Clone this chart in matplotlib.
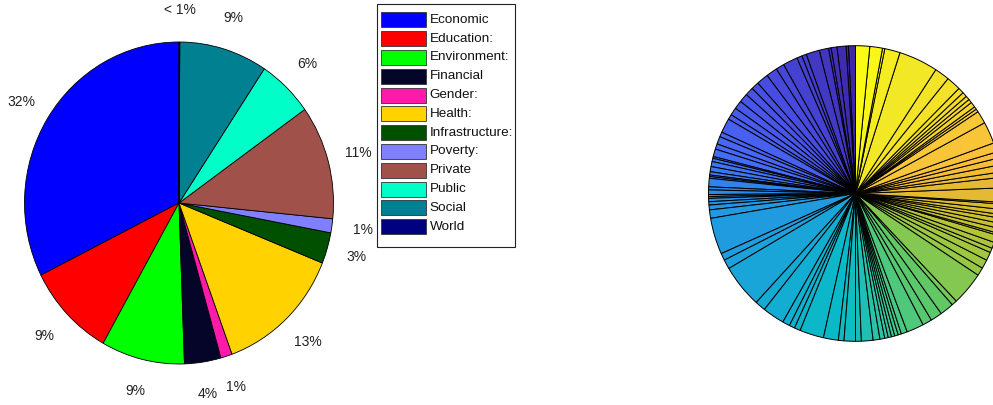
import matplotlib
matplotlib.use("Agg")
import matplotlib.pyplot as plt
from matplotlib.colors import LinearSegmentedColormap
from matplotlib.patches import Rectangle

plt.rcParams['font.family'] = ['Liberation Sans', 'DejaVu Sans']

W, H = 993, 405

# --- left pie: topic shares (%) ---
categories = ['Economic', 'Education:', 'Environment:', 'Financial', 'Gender:', 'Health:',
              'Infrastructure:', 'Poverty:', 'Private', 'Public', 'Social', 'World']
shares = [32.3, 9.4, 8.7, 3.8, 1.2, 13.3, 3.1, 1.4, 11.4, 5.8, 9.2, 0.08]
colors = ['#0000ff', '#ff0000', '#00ff00', '#05052a', '#ff1aaa', '#ffd200',
          '#005000', '#8080ff', '#a0524a', '#00ffc8', '#008090', '#000080']

# --- right pie: unlabeled wedge sizes (degrees) ---
wedge_sizes = [2.8, 0.9, 3.6, 2.3, 1.0, 3.7, 5.3, 1.8, 2.1, 5.8,
               3.3, 4.4, 4.7, 3.0, 3.3, 3.5, 3.3, 3.0, 2.0, 5.7,
               1.9, 3.0, 2.1, 3.0, 0.7, 1.3, 2.0, 2.0, 1.3, 0.6,
               0.7, 3.3, 1.2, 1.8, 0.8, 0.7, 1.3, 1.3, 1.9, 3.3,
               14.3, 2.8, 3.7, 17.0, 4.2, 8.7, 2.9, 2.2, 2.4, 9.5,
               5.9, 2.2, 4.5, 2.3, 4.6, 2.7, 1.9, 1.4, 1.3, 1.3,
               1.4, 1.3, 2.4, 6.8, 3.7, 4.6, 5.5, 2.1, 13.2, 3.2,
               3.5, 3.3, 1.8, 2.4, 3.0, 0.8, 1.9, 2.0, 2.0, 1.4,
               2.0, 2.1, 0.7, 5.6, 4.1, 2.1, 2.8, 2.7, 2.4, 3.7,
               8.6, 5.0, 1.2, 1.1, 2.1, 1.5, 1.6, 1.9, 2.3, 5.7,
               5.9, 15.5, 6.1, 0.9, 5.0, 5.6]

# parula-like colormap anchors (position, rgb 0-255)
parula_pos = [0.0, 0.124, 0.21, 0.276, 0.324, 0.39, 0.42, 0.476, 0.505, 0.524,
              0.59, 0.63, 0.657, 0.705, 0.752, 0.8, 0.84, 0.924, 0.962, 0.98, 1.0]
parula_rgb = [(62, 38, 168), (72, 80, 230), (70, 105, 245), (55, 125, 240), (40, 140, 230),
              (32, 157, 222), (20, 170, 212), (10, 185, 200), (20, 190, 185), (40, 195, 170),
              (70, 200, 130), (100, 200, 100), (150, 200, 70), (180, 195, 55), (210, 190, 45),
              (230, 185, 50), (250, 190, 60), (245, 220, 40), (242, 230, 40), (248, 240, 30),
              (250, 250, 20)]


def px(x, y):
    return x / W, 1 - y / H


fig = plt.figure(figsize=(W / 100, H / 100), dpi=100)

# left pie (slightly squeezed horizontally, like the source)
ax1 = fig.add_axes([0, 0, 360 / W, 1])
total = sum(shares)
labels = ['< 1%' if v / total * 100 < 1 else f"{round(v / total * 100)}%" for v in shares]
wedges, texts = ax1.pie(shares, colors=colors, labels=labels, startangle=90, counterclock=True,
                        labeldistance=1.2, wedgeprops=dict(edgecolor='k', linewidth=0.6),
                        textprops=dict(fontsize=10, color='#222222'))
for t in texts:
    t.set_ha('center')
    t.set_va('center')
ax1.set_aspect('auto')
cx, cy, rx, ry = 179.0, 202, 154.5, 161
ax1.set_xlim(-cx / rx, (360 - cx) / rx)
ax1.set_ylim(-cy / ry, (H - cy) / ry)

# right pie
ax2 = fig.add_axes([700 / W, 0, 293 / W, 1])
cmap = LinearSegmentedColormap.from_list(
    'parula_like', [(p, tuple(c / 255 for c in rgb)) for p, rgb in zip(parula_pos, parula_rgb)])
n = len(wedge_sizes)
wcols = [cmap(i / (n - 1)) for i in range(n)]
ax2.pie(wedge_sizes, colors=wcols, startangle=90, counterclock=True,
        wedgeprops=dict(edgecolor='k', linewidth=0.7))
ax2.set_aspect('auto')
cx2, cy2, rx2, ry2 = 855.5, 211.5, 147.0, 147.8
ax2.set_xlim((700 - cx2) / rx2, (993 - cx2) / rx2)
ax2.set_ylim(-cy2 / ry2, (H - cy2) / ry2)

# legend, drawn by hand in pixel positions
box_l, box_t, box_r, box_b = 377, 4, 515, 247
fig.add_artist(Rectangle(px(box_l, box_b), (box_r - box_l) / W, (box_b - box_t) / H,
                         transform=fig.transFigure, fill=False, edgecolor='#222222', lw=0.8))
row0, dy = 19.8, 18.8
for i, (name, c) in enumerate(zip(categories, colors)):
    yc = row0 + i * dy
    fig.add_artist(Rectangle(px(381, yc + 7.5), 45 / W, 15 / H, transform=fig.transFigure,
                             facecolor=c, edgecolor='#333333', lw=0.6))
    fig.text(*px(429.5, yc), name, fontsize=9.7, va='center', ha='left', color='#111111')

fig.savefig('out.png', dpi=100)
